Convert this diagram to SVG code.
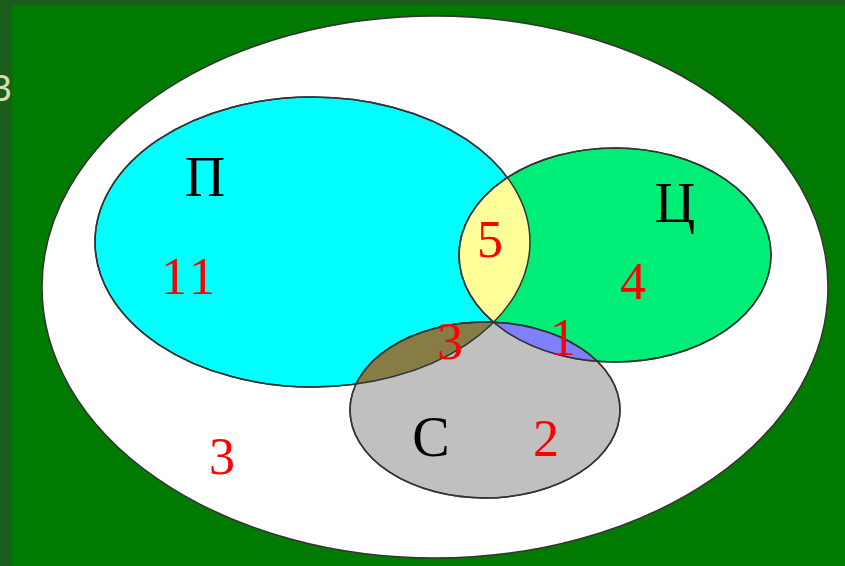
<svg xmlns="http://www.w3.org/2000/svg" width="845" height="566" viewBox="0 0 845 566">
<style>
.s{stroke:#333;stroke-width:1.5}
.lbl{font-family:"Liberation Serif",serif;font-size:56px;fill:#000;text-anchor:middle}
.num{font-family:"Liberation Serif",serif;font-size:52px;fill:#ff0000;text-anchor:middle}
</style>
<defs>
<clipPath id="cP"><ellipse cx="312.5" cy="242" rx="217.5" ry="145"/></clipPath>
<clipPath id="cG"><ellipse cx="615" cy="255" rx="156" ry="107"/></clipPath>
</defs>
<rect width="845" height="566" fill="#1b5e1b"/>
<text x="-10" y="101" font-family="Liberation Sans,sans-serif" font-size="36" fill="#d8e0b0">Зо</text>
<rect x="12" y="5" width="833" height="561" fill="#007a00"/>
<g id="universe"><ellipse cx="435" cy="287" rx="393" ry="271" fill="#fff" class="s"/></g>
<g id="setP"><ellipse cx="312.5" cy="242" rx="217.5" ry="145" fill="#00ffff" class="s"/></g>
<g id="setC"><ellipse cx="485" cy="410" rx="135" ry="88" fill="#c0c0c0" class="s"/></g>
<g id="setTs"><ellipse cx="615" cy="255" rx="156" ry="107" fill="#00ee77" class="s"/></g>
<g id="regions">
<g clip-path="url(#cP)"><ellipse cx="615" cy="255" rx="156" ry="107" fill="#ffff99" class="s"/></g>
<g clip-path="url(#cP)"><ellipse cx="485" cy="410" rx="135" ry="88" fill="#877c45" class="s"/></g>
<g clip-path="url(#cG)"><ellipse cx="485" cy="410" rx="135" ry="88" fill="#8080ff" class="s"/></g>
<ellipse cx="312.5" cy="242" rx="217.5" ry="145" fill="none" class="s"/>
<ellipse cx="615" cy="255" rx="156" ry="107" fill="none" class="s"/>
<ellipse cx="485" cy="410" rx="135" ry="88" fill="none" class="s"/>
</g>
<g id="labels">
<text x="205" y="196" class="lbl">П</text>
<text x="675" y="222" class="lbl">Ц</text>
<text x="431" y="456" class="lbl">С</text>
<text x="190" y="294" class="num" letter-spacing="4">11</text>
<text x="490" y="257" class="num">5</text>
<text x="633" y="299" class="num">4</text>
<text x="450" y="359" class="num">3</text>
<text x="563" y="355" class="num">1</text>
<text x="546" y="456" class="num">2</text>
<text x="222" y="474" class="num">3</text>
</g>
</svg>
